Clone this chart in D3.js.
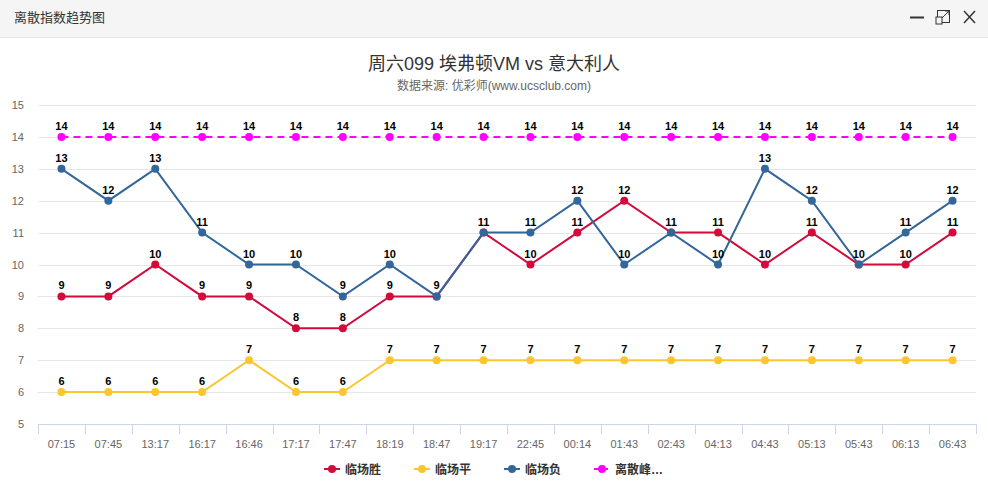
<!DOCTYPE html>
<html><head><meta charset="utf-8">
<script src="https://cdn.jsdelivr.net/npm/d3@7/dist/d3.min.js"></script>
<style>
body{margin:0;background:#fff;font-family:"Liberation Sans",Arial,"Noto Sans CJK SC",sans-serif;}
svg{display:block}
</style></head>
<body>
<svg id="c" width="988" height="489"></svg>
<script>
const categories = ["07:15","07:45","13:17","16:17","16:46","17:17","17:47","18:19","18:47","19:17","22:45","00:14","01:43","02:43","04:13","04:43","05:13","05:43","06:13","06:43"];
const winValues  = [9,9,10,9,9,8,8,9,9,11,10,11,12,11,11,10,11,10,10,11];
const drawValues = [6,6,6,6,7,6,6,7,7,7,7,7,7,7,7,7,7,7,7,7];
const loseValues = [13,12,13,11,10,10,9,10,9,11,11,12,10,11,10,13,12,10,11,12];
const peakValues = [14,14,14,14,14,14,14,14,14,14,14,14,14,14,14,14,14,14,14,14];
const yTicks = [5,6,7,8,9,10,11,12,13,14,15];
const seriesNames = ["临场胜","临场平","临场负","离散峰…"];
const seriesColors = ["#d20b3b","#fcc62e","#336699","#ff00ff"];
const seriesValues = [winValues, drawValues, loseValues, peakValues];
const seriesDash = [null, null, null, "7,5"];

(function(){
const svg = d3.select("#c");
const font = '"Liberation Sans",Arial,"Noto Sans CJK SC",sans-serif';
const cjk = '"Noto Sans CJK SC","Liberation Sans",Arial,sans-serif';

// header
svg.append("rect").attr("x",0).attr("y",0).attr("width",988).attr("height",37).attr("fill","#f5f5f5");
svg.append("line").attr("x1",0).attr("x2",988).attr("y1",37.5).attr("y2",37.5).attr("stroke","#e6e6e6");
svg.append("text").attr("x",14).attr("y",22).attr("font-size",13).attr("fill","#333").attr("font-family",cjk).text("离散指数趋势图");
// icons
svg.append("line").attr("x1",910).attr("x2",924).attr("y1",17.5).attr("y2",17.5).attr("stroke","#333").attr("stroke-width",2);
svg.append("rect").attr("x",937.5).attr("y",10.5).attr("width",12).attr("height",12).attr("fill","none").attr("stroke","#333");
svg.append("path").attr("d","M942,18 L949,11 M945,11 L949,11 L949,15").attr("fill","none").attr("stroke","#333");
svg.append("rect").attr("x",936).attr("y",17).attr("width",6).attr("height",7).attr("fill","#f5f5f5").attr("stroke","#333");
svg.append("path").attr("d","M964,11 L975,23 M975,11 L964,23").attr("stroke","#333").attr("stroke-width",1.5);

// titles
svg.append("text").attr("x",494).attr("y",70).attr("text-anchor","middle").attr("font-size",18).attr("fill","#333").attr("font-family",font).text("周六099 埃弗顿VM vs 意大利人");
svg.append("text").attr("x",494).attr("y",90).attr("text-anchor","middle").attr("font-size",12).attr("fill","#666").attr("font-family",font).text("数据来源: 优彩师(www.ucsclub.com)");

const pLeft = 38, pRight = 976, pTop = 105, pBottom = 424;
const x = d3.scaleBand().domain(categories).range([pLeft,pRight]);
const y = d3.scaleLinear().domain([5,15]).range([pBottom,pTop]);
const cx = c => x(c) + x.bandwidth()/2;

// grid
svg.append("g").selectAll("line").data(yTicks.slice(1)).join("line")
  .attr("x1",pLeft).attr("x2",pRight).attr("y1",d=>Math.round(y(d))+0.5).attr("y2",d=>Math.round(y(d))+0.5)
  .attr("stroke","#e6e6e6");
// y labels
svg.append("g").selectAll("text").data(yTicks).join("text")
  .attr("x",24).attr("y",d=>y(d)+4).attr("text-anchor","end").attr("font-size",11).attr("fill","#666").attr("font-family",font).text(d=>d);

// x axis
const xa = svg.append("g").attr("transform",`translate(0,${pBottom+0.5})`)
  .call(d3.axisBottom(x).tickSize(0).tickPadding(0));
xa.select(".domain").remove();
svg.append("line").attr("x1",pLeft).attr("x2",pRight).attr("y1",pBottom+0.5).attr("y2",pBottom+0.5).attr("stroke","#ccd6eb");
const bounds = categories.map(c=>x(c)).concat([pRight]);
svg.append("g").selectAll("line").data(bounds).join("line")
  .attr("x1",d=>Math.round(d)+0.5).attr("x2",d=>Math.round(d)+0.5).attr("y1",pBottom).attr("y2",pBottom+10).attr("stroke","#ccd6eb");
xa.selectAll("text").attr("y",16).attr("font-size",11).attr("fill","#666").attr("font-family",font);

// series
const line = d3.line().x((d,i)=>cx(categories[i])).y(d=>y(d));
seriesValues.forEach((vals,si)=>{
  const g = svg.append("g");
  g.append("path").attr("d",line(vals)).attr("fill","none").attr("stroke",seriesColors[si]).attr("stroke-width",2)
    .attr("stroke-dasharray",seriesDash[si]);
  g.selectAll("circle").data(vals).join("circle").attr("cx",(d,i)=>cx(categories[i])).attr("cy",d=>y(d)).attr("r",4).attr("fill",seriesColors[si]);
});
// data labels, hide overlapping duplicates
const used = new Set();
seriesValues.forEach((vals,si)=>{
  const items = vals.map((v,i)=>({v,i})).filter(o=>{const k=o.i+"_"+o.v; if(used.has(k)) return false; used.add(k); return true;});
  svg.append("g").selectAll("text").data(items).join("text")
    .attr("x",o=>cx(categories[o.i])).attr("y",o=>y(o.v)-7).attr("text-anchor","middle")
    .attr("font-size",11).attr("font-weight","bold").attr("fill","#000").attr("font-family",font).text(o=>o.v);
});

// legend
const legX = [322, 412, 502, 592];
seriesNames.forEach((n,i)=>{
  const g = svg.append("g").attr("transform",`translate(${legX[i]},469)`);
  g.append("line").attr("x1",2).attr("x2",18).attr("y1",0).attr("y2",0).attr("stroke",seriesColors[i]).attr("stroke-width",2).attr("stroke-dasharray",seriesDash[i]?"6,2":null);
  g.append("circle").attr("cx",10).attr("cy",0).attr("r",4).attr("fill",seriesColors[i]);
  g.append("text").attr("x",23).attr("y",5).attr("font-size",12).attr("font-weight","bold").attr("fill","#333").attr("font-family",font).text(n);
});
})();
</script>
</body></html>
